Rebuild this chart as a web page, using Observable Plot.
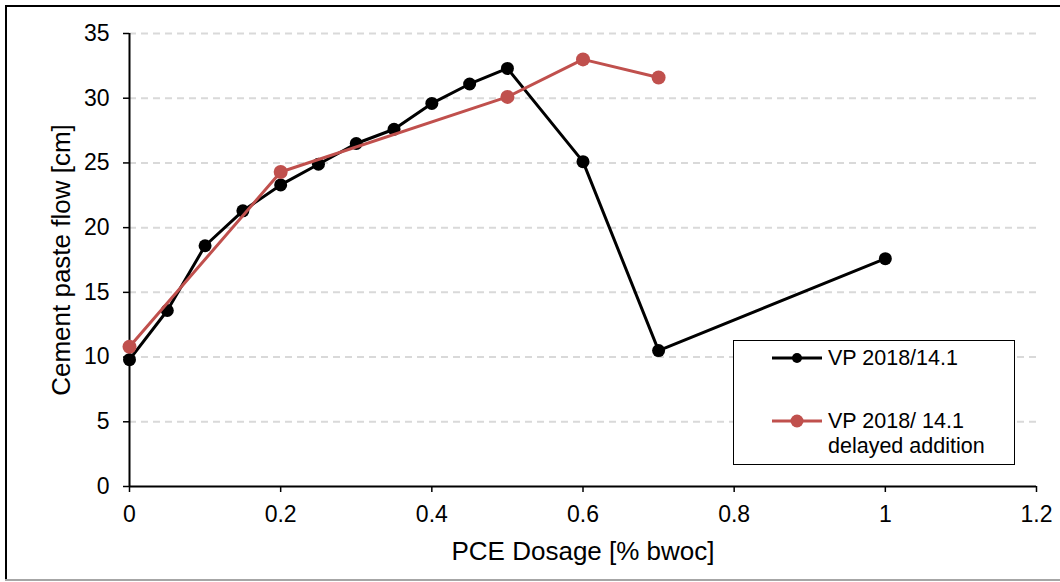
<!DOCTYPE html>
<html>
<head>
<meta charset="utf-8">
<script src="https://cdn.jsdelivr.net/npm/d3@7"></script>
<script src="https://cdn.jsdelivr.net/npm/@observablehq/plot@0.6"></script>
<style>
  html, body { margin: 0; padding: 0; background: #fff; }
  #wrap { position: relative; width: 1060px; height: 582px; overflow: hidden; font-family: "Liberation Sans", Arial, sans-serif; }
  #wrap > svg { position: absolute; left: 0; top: 0; }
  .frame-top { position: absolute; left: 6px; top: 5px; width: 1054px; height: 2px; background: #000; }
  .frame-left { position: absolute; left: 5px; top: 5px; width: 2px; height: 576px; background: #000; }
  .frame-bottom { position: absolute; left: 5px; top: 579px; width: 1055px; height: 2px; background: #a6a6a6; }
  #legend { position: absolute; left: 733px; top: 340px; width: 280px; height: 123px; border: 1.5px solid #000; background: #fff; }
  .lg-item { position: absolute; left: 0; font-size: 21.5px; color: #000; line-height: 25px; }
  #legend .lg-item svg { position: absolute; left: 37px; top: 5px; }
  .lg-text { position: absolute; left: 94px; white-space: nowrap; }
</style>
</head>
<body>
<div id="wrap">
  <div class="frame-top"></div>
  <div class="frame-left"></div>
  <div class="frame-bottom"></div>
</div>
<script>
// Data
const dosageBlack = [0, 0.05, 0.1, 0.15, 0.2, 0.25, 0.3, 0.35, 0.4, 0.45, 0.5, 0.6, 0.7, 1.0];
const flowBlack   = [9.8, 13.6, 18.6, 21.3, 23.3, 24.9, 26.5, 27.6, 29.6, 31.1, 32.3, 25.1, 10.5, 17.6];
const dosageRed   = [0, 0.2, 0.5, 0.6, 0.7];
const flowRed     = [10.8, 24.3, 30.1, 33.0, 31.6];
const seriesNames = ["VP 2018/14.1", "VP 2018/ 14.1", "delayed addition"];
const xTicks = [0, 0.2, 0.4, 0.6, 0.8, 1, 1.2];
const yTicks = [0, 5, 10, 15, 20, 25, 30, 35];
const xLabel = "PCE Dosage [% bwoc]";
const yLabel = "Cement paste flow [cm]";

const black = dosageBlack.map((x, i) => ({x, y: flowBlack[i]}));
const red = dosageRed.map((x, i) => ({x, y: flowRed[i]}));
const RED = "#C0504D";

const chart = Plot.plot({
  width: 1060,
  height: 582,
  marginLeft: 129,
  marginRight: 24,
  marginTop: 33,
  marginBottom: 96,
  style: { fontFamily: "Liberation Sans, Arial, sans-serif", fontSize: "23px", color: "#000", background: "transparent" },
  x: { domain: [0, 1.2] },
  y: { domain: [0, 35] },
  marks: [
    Plot.gridY(yTicks.filter(d => d > 0), { stroke: "#d9d9d9", strokeOpacity: 1, strokeWidth: 2, strokeDasharray: "7,5" }),
    Plot.axisX(xTicks, { tickSize: 6, tickPadding: 13, fontSize: 23, stroke: "#000", strokeWidth: 1.5, tickFormat: d => String(d), label: null }),
    Plot.axisY(yTicks, { tickSize: 6, tickPadding: 14, fontSize: 23, stroke: "#000", strokeWidth: 1.5, tickFormat: d => String(d), label: null }),
    Plot.ruleX([0], { y1: 0, y2: 35, stroke: "#000", strokeWidth: 2 }),
    Plot.ruleY([0], { x1: 0, x2: 1.2, stroke: "#000", strokeWidth: 2 }),
    Plot.line(black, { x: "x", y: "y", stroke: "#000", strokeWidth: 3 }),
    Plot.dot(black, { x: "x", y: "y", r: 6.5, fill: "#000" }),
    Plot.line(red, { x: "x", y: "y", stroke: RED, strokeWidth: 3 }),
    Plot.dot(red, { x: "x", y: "y", r: 7, fill: RED }),
    Plot.text([xLabel], { frameAnchor: "bottom", lineAnchor: "middle", textAnchor: "middle", dy: 65, fontSize: 26, text: d => d }),
    Plot.text([yLabel], { frameAnchor: "left", lineAnchor: "middle", textAnchor: "middle", dx: -68, rotate: -90, fontSize: 26, text: d => d })
  ]
});
document.getElementById("wrap").prepend(chart);

// Legend (HTML overlay)
const legend = document.createElement("div");
legend.id = "legend";
function sample(color, r) {
  return `<svg width="52" height="14" viewBox="0 0 52 14"><line x1="1" y1="7" x2="51" y2="7" stroke="${color}" stroke-width="3"/><circle cx="26" cy="7" r="${r}" fill="${color}"/></svg>`;
}
legend.innerHTML =
  `<div class="lg-item" style="top:5px;width:280px;height:25px">${sample("#000", 5)}<span class="lg-text" style="top:0">${seriesNames[0]}</span></div>` +
  `<div class="lg-item" style="top:68px;width:280px;height:50px">${sample(RED, 6.5)}<span class="lg-text" style="top:0">${seriesNames[1]}</span><span class="lg-text" style="top:25px">${seriesNames[2]}</span></div>`;
document.getElementById("wrap").appendChild(legend);
</script>
</body>
</html>
